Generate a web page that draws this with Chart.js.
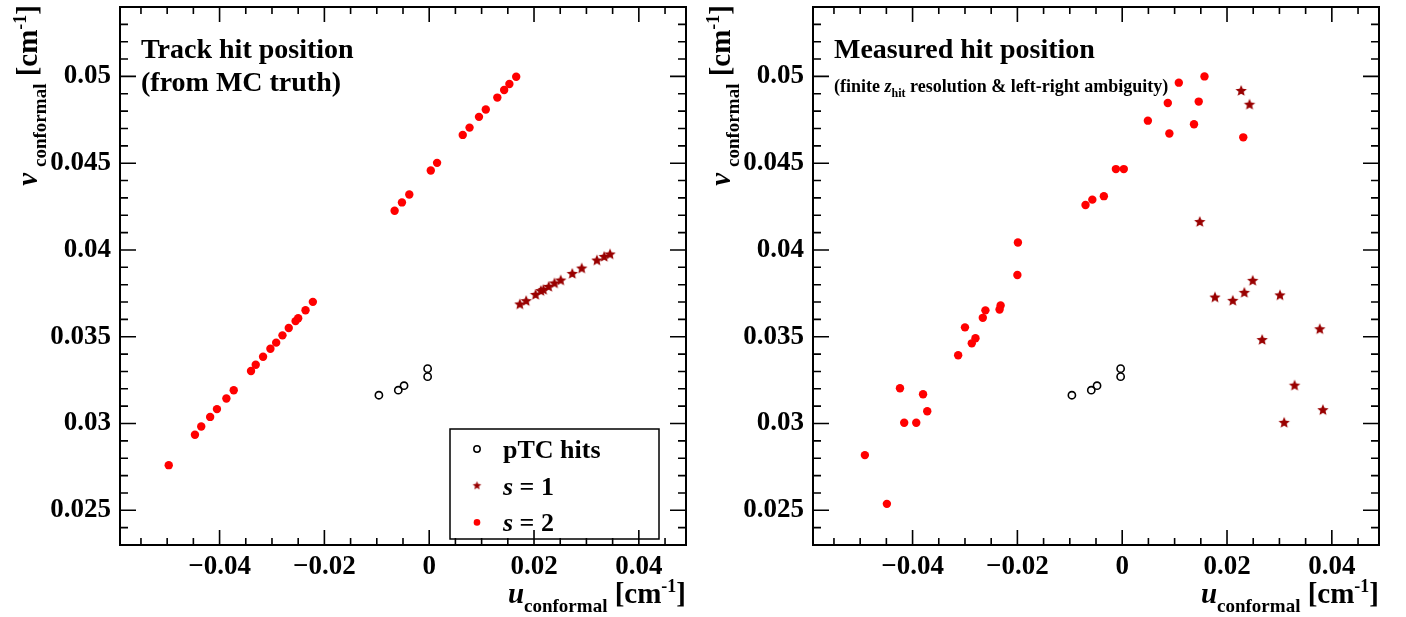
<!DOCTYPE html>
<html>
<head>
<meta charset="utf-8">
<script src="https://cdn.jsdelivr.net/npm/chart.js@4.4.1/dist/chart.umd.min.js"></script>
<style>
  html, body { margin: 0; padding: 0; background: #fff; }
  #wrap { position: relative; width: 1406px; height: 617px; }
  canvas { position: absolute; left: 0; top: 0; }
</style>
</head>
<body>
<div id="wrap">
  <canvas id="truthChart" width="1406" height="617"></canvas>
  <canvas id="measChart" width="1406" height="617"></canvas>
</div>
<script>
// tick labels
const uTicks = [-0.04, -0.02, 0, 0.02, 0.04];
const vTicks = [0.025, 0.03, 0.035, 0.04, 0.045, 0.05];

// pTC hits (same in both panels)
const ptcU = [-0.0096, -0.0059, -0.0048, -0.0003, -0.0003];
const ptcV = [0.03163, 0.03192, 0.03218, 0.03316, 0.03270];

// left panel: MC truth
const truthS1U = [0.0173, 0.0185, 0.0203, 0.0213, 0.0218, 0.0228, 0.0239, 0.0251, 0.0273, 0.0291, 0.0320, 0.0334, 0.0345];
const truthS1V = [0.03686, 0.03705, 0.03741, 0.03763, 0.03770, 0.03787, 0.03807, 0.03824, 0.03862, 0.03893, 0.03939, 0.03960, 0.03974];
const truthS2U = [-0.0497, -0.0447, -0.0435, -0.0418, -0.0405, -0.0387, -0.0373, -0.0340, -0.0331, -0.0317, -0.0303, -0.0292,
  -0.0280, -0.0268, -0.0255, -0.0250, -0.0236, -0.0222, -0.0066, -0.0052, -0.0038, 0.0003, 0.0015, 0.0064, 0.0077, 0.0095,
  0.0108, 0.0130, 0.0143, 0.0153, 0.0166];
const truthS2V = [0.02760, 0.02935, 0.02983, 0.03038, 0.03083, 0.03144, 0.03192, 0.03303, 0.03339, 0.03385, 0.03431, 0.03466,
  0.03508, 0.03550, 0.03590, 0.03607, 0.03653, 0.03701, 0.04226, 0.04274, 0.04320, 0.04458, 0.04502, 0.04663, 0.04705, 0.04767,
  0.04809, 0.04878, 0.04922, 0.04956, 0.04998];

// right panel: measured
const measS1U = [0.0227, 0.0243, 0.0148, 0.0249, 0.0177, 0.0211, 0.0233, 0.0301, 0.0377, 0.0267, 0.0329, 0.0383, 0.0309];
const measS1V = [0.04916, 0.04837, 0.04161, 0.03822, 0.03726, 0.03707, 0.03753, 0.03738, 0.03543, 0.03481, 0.03218, 0.03077, 0.03004];
const measS2U = [-0.0491, -0.0449, -0.0424, -0.0416, -0.0393, -0.0380, -0.0372, -0.0313, -0.0300, -0.0287, -0.0280, -0.0266,
  -0.0261, -0.0234, -0.0232, -0.0200, -0.0199, -0.0070, -0.0057, -0.0035, -0.0012, 0.0003, 0.0049, 0.0087, 0.0090, 0.0108,
  0.0137, 0.0146, 0.0157, 0.0231];
const measS2V = [0.02818, 0.02537, 0.03203, 0.03004, 0.03004, 0.03169, 0.03071, 0.03393, 0.03554, 0.03462, 0.03491, 0.03609,
  0.03652, 0.03657, 0.03680, 0.03856, 0.04043, 0.04259, 0.04290, 0.04310, 0.04466, 0.04466, 0.04745, 0.04847, 0.04671, 0.04964,
  0.04724, 0.04855, 0.05000, 0.04649];

const SERIF = "'Liberation Serif', 'Times New Roman', serif";
const DARKRED = '#990000';
Chart.defaults.font.family = SERIF;

function pts(us, vs) {
  return us.map((u, i) => ({ x: u, y: vs[i] }));
}

// filled 5-point star, used as point style
function makeStar(r) {
  const c = document.createElement('canvas');
  const s = Math.ceil(r * 2 + 2);
  c.width = s; c.height = s;
  const g = c.getContext('2d');
  g.fillStyle = DARKRED;
  g.beginPath();
  for (let i = 0; i < 10; i++) {
    const rr = i % 2 === 0 ? r : r * 0.45;
    const a = -Math.PI / 2 + i * Math.PI / 5;
    const px = s / 2 + rr * Math.cos(a), py = s / 2 + rr * Math.sin(a);
    if (i === 0) g.moveTo(px, py); else g.lineTo(px, py);
  }
  g.closePath();
  g.fill();
  return c;
}
const starImg = makeStar(6);

// draw text made of several font runs (for sub/superscripts)
function richText(ctx, parts, x, y, align) {
  let w = 0;
  parts.forEach(p => { ctx.font = p.font; w += ctx.measureText(p.t).width; });
  let cx = align === 'right' ? x - w : x;
  ctx.textBaseline = 'alphabetic';
  ctx.textAlign = 'left';
  parts.forEach(p => {
    ctx.font = p.font;
    ctx.fillText(p.t, cx, y + (p.dy || 0));
    cx += ctx.measureText(p.t).width;
  });
}

function axisTitle(letter, gap) {
  return [
    { t: letter + gap, font: `italic bold 29px ${SERIF}` },
    { t: 'conformal', font: `bold 19px ${SERIF}`, dy: 9 },
    { t: ' [cm', font: `bold 29px ${SERIF}` },
    { t: '-1', font: `bold 18px ${SERIF}`, dy: -11 },
    { t: ']', font: `bold 29px ${SERIF}` }
  ];
}

// ROOT style frame: box, ticks inside on all four sides, titles, legend
const rootFrame = {
  id: 'rootFrame',
  afterDraw(chart, args, opts) {
    const { ctx, chartArea: a } = chart;
    const xs = chart.scales.x, ys = chart.scales.y;
    ctx.save();
    ctx.strokeStyle = '#000';
    ctx.fillStyle = '#000';

    ctx.lineWidth = 1.6;
    ctx.beginPath();
    for (let i = Math.ceil(xs.min / 0.005 - 1e-6); i <= Math.floor(xs.max / 0.005 + 1e-6); i++) {
      const px = xs.getPixelForValue(i * 0.005);
      const len = i % 4 === 0 ? 15 : 7;
      ctx.moveTo(px, a.bottom); ctx.lineTo(px, a.bottom - len);
      ctx.moveTo(px, a.top); ctx.lineTo(px, a.top + len);
    }
    for (let i = Math.ceil(ys.min / 0.001 - 1e-6); i <= Math.floor(ys.max / 0.001 + 1e-6); i++) {
      const py = ys.getPixelForValue(i * 0.001);
      const len = i % 5 === 0 ? 16 : 8;
      ctx.moveTo(a.left, py); ctx.lineTo(a.left + len, py);
      ctx.moveTo(a.right, py); ctx.lineTo(a.right - len, py);
    }
    ctx.stroke();

    ctx.lineWidth = 2;
    ctx.strokeRect(a.left, a.top, a.right - a.left, a.bottom - a.top);

    // axis titles
    richText(ctx, axisTitle('u', ''), a.right, 603, 'right');
    ctx.save();
    ctx.translate(a.left - 83, a.top - 2);
    ctx.rotate(-Math.PI / 2);
    richText(ctx, axisTitle('v', '\u2009'), 0, 0, 'right');
    ctx.restore();

    // in-frame title
    opts.title.forEach(line => richText(ctx, line.parts, a.left + 21, line.y, 'left'));

    // legend box
    if (opts.legend) {
      const L = opts.legend;
      ctx.lineWidth = 1.5;
      ctx.strokeRect(L.x, L.y, L.w, L.h);
      L.items.forEach((it, k) => {
        const cy = L.y + 20 + k * 36.7;
        const mx = L.x + 27;
        if (it.marker === 'open') {
          ctx.lineWidth = 1.5;
          ctx.beginPath(); ctx.arc(mx, cy, 3.2, 0, Math.PI * 2); ctx.stroke();
        } else if (it.marker === 'star') {
          ctx.drawImage(makeStar(4.5), mx - 5.5, cy - 5.5);
        } else {
          ctx.fillStyle = 'red';
          ctx.beginPath(); ctx.arc(mx, cy, 3.3, 0, Math.PI * 2); ctx.fill();
          ctx.fillStyle = '#000';
        }
        richText(ctx, it.parts, L.x + 53, cy + 9, 'left');
      });
    }
    ctx.restore();
  }
};

function makeChart(id, s1U, s1V, s2U, s2V, left, right, pluginOpts) {
  return new Chart(document.getElementById(id), {
    type: 'scatter',
    data: {
      datasets: [
        { label: 'pTC hits', data: pts(ptcU, ptcV), pointStyle: 'circle', pointRadius: 3.6,
          borderColor: '#000', backgroundColor: 'rgba(0,0,0,0)', borderWidth: 1.6 },
        { label: 's = 1', data: pts(s1U, s1V), pointStyle: starImg, pointRadius: 6 },
        { label: 's = 2', data: pts(s2U, s2V), pointStyle: 'circle', pointRadius: 4.2,
          borderWidth: 0, backgroundColor: '#ff0000', borderColor: '#ff0000' }
      ]
    },
    options: {
      responsive: false,
      animation: false,
      layout: { padding: { left: 0, right: 1406 - right, top: 5, bottom: 0 } },
      plugins: { legend: { display: false }, tooltip: { enabled: false }, rootFrame: pluginOpts },
      scales: {
        x: {
          type: 'linear', min: -0.059, max: 0.049,
          afterBuildTicks: s => { s.ticks = uTicks.map(v => ({ value: v })); },
          afterFit: s => { s.height = 617 - 545; s.paddingLeft = 0; s.paddingRight = 0; },
          grid: { display: false }, border: { display: false },
          ticks: {
            color: '#000', padding: -2, maxRotation: 0,
            font: { family: SERIF, weight: 'bold', size: 27 },
            callback: v => v === 0 ? '0' : (v < 0 ? '\u2212' + String(Math.abs(+v.toFixed(3))) : String(+v.toFixed(3)))
          }
        },
        y: {
          type: 'linear', min: 0.023, max: 0.054,
          afterBuildTicks: s => { s.ticks = vTicks.map(v => ({ value: v })); },
          afterFit: s => { s.width = left; s.paddingTop = 0; s.paddingBottom = 0; },
          grid: { display: false }, border: { display: false },
          ticks: {
            color: '#000', padding: 1,
            font: { family: SERIF, weight: 'bold', size: 27 },
            callback: v => String(+v.toFixed(3))
          }
        }
      }
    },
    plugins: [rootFrame]
  });
}

const B28 = `bold 28px ${SERIF}`;
const IB26 = `italic bold 26px ${SERIF}`;
const B26 = `bold 26px ${SERIF}`;

makeChart('truthChart', truthS1U, truthS1V, truthS2U, truthS2V, 120, 686, {
  title: [
    { y: 58, parts: [{ t: 'Track hit position', font: B28 }] },
    { y: 91, parts: [{ t: '(from MC truth)', font: B28 }] }
  ],
  legend: {
    x: 450, y: 429, w: 209, h: 110,
    items: [
      { marker: 'open', parts: [{ t: 'pTC hits', font: B26 }] },
      { marker: 'star', parts: [{ t: 's', font: IB26 }, { t: ' = 1', font: B26 }] },
      { marker: 'dot', parts: [{ t: 's', font: IB26 }, { t: ' = 2', font: B26 }] }
    ]
  }
});

makeChart('measChart', measS1U, measS1V, measS2U, measS2V, 813, 1379, {
  title: [
    { y: 58, parts: [{ t: 'Measured hit position', font: B28 }] },
    { y: 92, parts: [
      { t: '(finite ', font: `bold 18px ${SERIF}` },
      { t: 'z', font: `italic bold 18px ${SERIF}` },
      { t: 'hit', font: `bold 12px ${SERIF}`, dy: 5 },
      { t: ' resolution & left-right ambiguity)', font: `bold 18px ${SERIF}` }
    ] }
  ]
});
</script>
</body>
</html>
